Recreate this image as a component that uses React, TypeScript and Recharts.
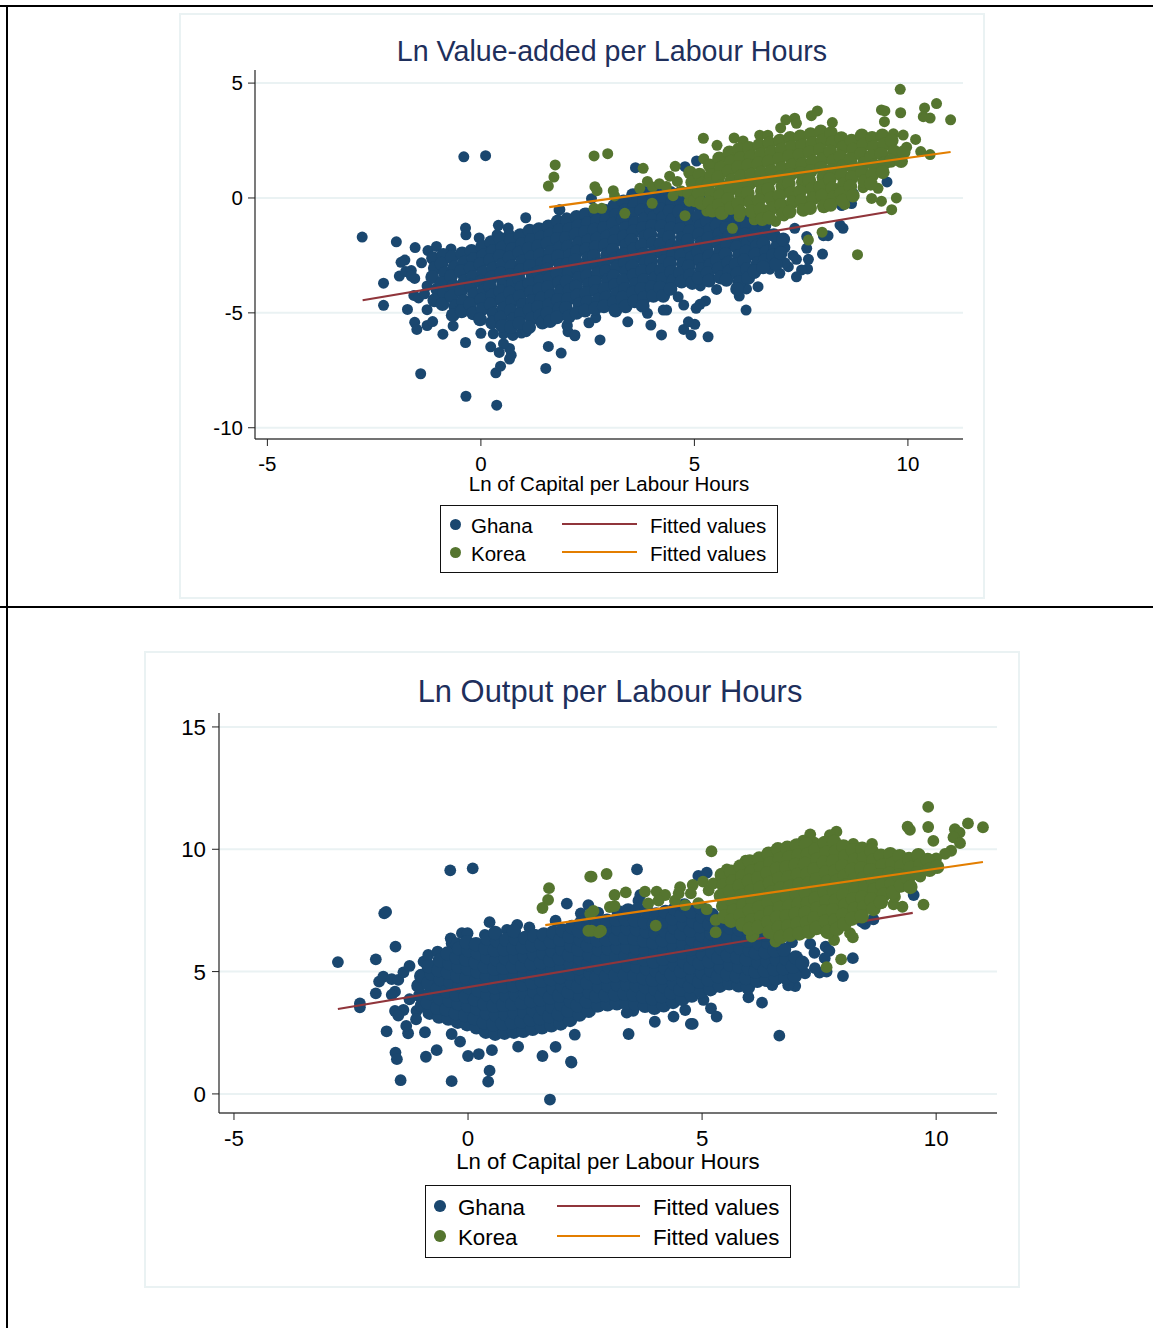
import { CartesianGrid, Scatter, ScatterChart, XAxis, YAxis } from "recharts";

type Pair = [number, number];

const FONT = "'Liberation Sans', Arial, sans-serif";
const GHANA = "#1a476f";
const KOREA = "#55752f";
const GHANA_FIT = "#90353b";
const KOREA_FIT = "#e37e00";
const GRID = "#eaf2f3";

const xTicks = [-5, 0, 5, 10];
const vaTicks = [-10, -5, 0, 5];
const outputTicks = [0, 5, 10, 15];

// Top panel: ln value-added per labour hour
const ghanaVaOuter: Pair[] = [
  [-2.78,-1.7],[-1.98,-1.91],[-1.54,-2.16],[-2.28,-3.71],[-2.28,-4.67],[-1.72,-4.85],[-1.55,-5.41],[-1.5,-5.72],[-1.26,-5.55],[-1.13,-5.38],
  [-.89,-5.93],[-.65,-5.57],[-.36,-6.29],[-1.41,-7.65],[-.35,-8.63],[.37,-9.02],[.35,-7.61],[.46,-7.32],[.67,-7.01],[.71,-6.84],
  [.67,-6.55],[.53,-6.34],[.43,-6.72],[.23,-6.48],[0,-5.89],[.29,-5.91],[.53,-5.91],[.75,-5.98],[.95,-5.88],[1.06,-5.82],
  [1.52,-7.42],[1.58,-6.46],[1.88,-6.75],[2.02,-5.58],[2.04,-5.82],[2.2,-6],[-.4,1.79],[.11,1.84],[1.83,-.52],[1.05,-.86],
  [-.36,-1.31],[-.35,-1.6],[.41,-1.19],[.64,-1.31],[.38,-1.6],[.66,-1.56],[-.04,-1.74],[-1.24,-2.29],[-1.04,-2.11],[-.7,-2.22],
  [-1.78,-2.7],[-1.87,-2.8],[-1.39,-2.82],[-1.91,-3.4],[-1.76,-3.2],[-1.63,-3.16],[-1.55,-3.5],[-1.63,-3.4],[-1.57,-4.24],[-1.46,-4.35],
  [-1.32,-4.17],[-1.26,-3.83],[-1.26,-4.86],[9.42,1.12],[9.51,.7],[8,-2.44],[7.67,-2.67],[7.63,-2.19],[7.63,-1.68],[7.65,-3.09],
  [7.51,-3.13],[7.39,-3.43],[7,-3.28],[7.2,-2.99],[7.12,-2.82],[7.39,-2.67],[6.49,-3.86],[6.21,-4.88],[6.05,-4.27],[5.52,-3.98],
  [5.14,-3.83],[5.26,-4.48],[5.13,-4.63],[5.04,-4.8],[4.75,-4.66],[4.62,-4.3],[4.35,-4.88],[4.27,-4.88],[3.9,-5.02],[3.98,-5.53],
  [3.44,-5.39],[2.69,-5.21],[2.53,-5.43],[2.02,-5.53],[2.2,-5.96],[2.79,-6.18],[4.23,-5.96],[4.75,-5.72],[5.01,-5.5],[4.86,-5.39],
  [4.92,-5.96],[5.32,-6.04],[8.48,-1.32],[8.41,-1.18],[8.02,-1.64],[8.13,-1.64],[8.45,-.33],[8.68,-.24],[8.72,.2],[3.62,1.32],
  [5.05,1.61],[4.78,1.36],[2.59,-.03],[1.85,-.51],[2.42,-.67],[2.01,-.86],[7.35,-1.32],[6.93,-1.95],[7.12,-2.16],[7.31,-2.5],
  [6.77,-3.1],[6.41,-3.28],[6.22,-3.96],
];
const ghanaVaCore: Pair[] = [
  [-1.12,-2.62],[-1.08,-3.05],[-1.14,-3.44],[-1.02,-3.98],[-1.09,-4.46],[-.88,-2.48],[-.92,-2.86],[-.84,-3.28],[-.91,-3.71],[-.86,-4.12],[-.9,-4.62],
  [-.68,-2.58],[-.62,-3.02],[-.7,-3.41],[-.64,-3.83],[-.69,-4.28],[-.6,-4.72],[-.66,-5.1],[-.44,-2.41],[-.4,-2.82],[-.47,-3.2],[-.38,-3.61],[-.46,-4.03],[-.41,-4.49],[-.45,-4.93],
  [-.22,-2.3],[-.17,-2.66],[-.24,-3.05],[-.19,-3.44],[-.23,-3.82],[-.16,-4.2],[-.25,-4.61],[-.18,-5.02],[.03,-2.12],[.06,-2.5],[-.01,-2.88],[.05,-3.25],[0,-3.64],[.07,-4.02],[.01,-4.42],[.04,-4.83],[-.02,-5.28],
  [.24,-1.92],[.28,-2.31],[.22,-2.7],[.29,-3.08],[.25,-3.46],[.21,-3.85],[.27,-4.24],[.23,-4.62],[.3,-5.03],[.26,-5.43],[.46,-1.78],[.5,-2.16],[.44,-2.53],[.51,-2.9],[.47,-3.28],[.52,-3.66],[.45,-4.05],[.49,-4.43],[.53,-4.82],[.47,-5.21],[.5,-5.58],
  [.7,-1.82],[.74,-2.22],[.67,-2.6],[.72,-2.98],[.69,-3.36],[.75,-3.74],[.68,-4.12],[.73,-4.5],[.7,-4.9],[.76,-5.28],[.71,-5.62],[.92,-1.62],[.96,-2],[.9,-2.38],[.97,-2.76],[.93,-3.14],[.89,-3.52],[.95,-3.9],[.91,-4.28],[.98,-4.66],[.94,-5.05],[.9,-5.45],
  [1.14,-1.42],[1.18,-1.82],[1.12,-2.2],[1.19,-2.58],[1.15,-2.96],[1.21,-3.34],[1.13,-3.72],[1.17,-4.1],[1.2,-4.48],[1.14,-4.86],[1.19,-5.25],[1.13,-5.62],[1.36,-1.36],[1.41,-1.72],[1.34,-2.1],[1.39,-2.47],[1.43,-2.85],[1.35,-3.23],[1.4,-3.6],[1.37,-3.98],[1.42,-4.36],[1.34,-4.74],[1.39,-5.12],[1.44,-5.42],
  [1.58,-1.24],[1.62,-1.6],[1.56,-1.98],[1.63,-2.36],[1.59,-2.74],[1.55,-3.12],[1.61,-3.5],[1.57,-3.88],[1.64,-4.26],[1.6,-4.64],[1.56,-5.02],[1.62,-5.36],[1.8,-1.02],[1.84,-1.4],[1.78,-1.78],[1.85,-2.16],[1.81,-2.54],[1.86,-2.92],[1.79,-3.3],[1.83,-3.68],[1.87,-4.06],[1.8,-4.44],[1.84,-4.82],[1.78,-5.2],
  [2.02,-.98],[2.07,-1.36],[2,-1.74],[2.05,-2.12],[2.09,-2.5],[2.03,-2.88],[2.06,-3.26],[2.01,-3.64],[2.08,-4.02],[2.04,-4.4],[1.99,-4.78],[2.06,-5.16],[2.24,-.82],[2.28,-1.2],[2.22,-1.58],[2.29,-1.96],[2.25,-2.34],[2.21,-2.72],[2.27,-3.1],[2.3,-3.48],[2.23,-3.86],[2.26,-4.24],[2.31,-4.62],[2.24,-5],
  [2.46,-.72],[2.5,-1.1],[2.44,-1.48],[2.51,-1.86],[2.47,-2.24],[2.52,-2.62],[2.45,-3],[2.49,-3.38],[2.53,-3.76],[2.46,-4.14],[2.5,-4.52],[2.44,-4.9],[2.68,-.62],[2.72,-1],[2.66,-1.38],[2.73,-1.76],[2.69,-2.14],[2.65,-2.52],[2.71,-2.9],[2.74,-3.28],[2.67,-3.66],[2.7,-4.04],[2.75,-4.42],[2.68,-4.8],
  [2.9,-.55],[2.94,-.92],[2.88,-1.3],[2.95,-1.68],[2.91,-2.06],[2.96,-2.44],[2.89,-2.82],[2.93,-3.2],[2.97,-3.58],[2.9,-3.96],[2.94,-4.34],[2.88,-4.72],[3.12,-.35],[3.16,-.74],[3.1,-1.12],[3.17,-1.5],[3.13,-1.88],[3.09,-2.26],[3.15,-2.64],[3.18,-3.02],[3.11,-3.4],[3.14,-3.78],[3.19,-4.16],[3.12,-4.54],[3.15,-4.9],
  [3.34,-.15],[3.38,-.54],[3.32,-.92],[3.39,-1.3],[3.35,-1.68],[3.4,-2.06],[3.33,-2.44],[3.37,-2.82],[3.41,-3.2],[3.34,-3.58],[3.38,-3.96],[3.32,-4.34],[3.39,-4.72],[3.56,.12],[3.6,-.3],[3.54,-.7],[3.61,-1.08],[3.57,-1.46],[3.53,-1.84],[3.59,-2.22],[3.62,-2.6],[3.55,-2.98],[3.58,-3.36],[3.63,-3.74],[3.56,-4.12],[3.6,-4.5],
  [3.78,.26],[3.82,-.14],[3.76,-.54],[3.83,-.92],[3.79,-1.3],[3.84,-1.68],[3.77,-2.06],[3.81,-2.44],[3.85,-2.82],[3.78,-3.2],[3.82,-3.58],[3.76,-3.96],[3.83,-4.34],[3.79,-4.7],[4,.32],[4.04,-.08],[3.98,-.46],[4.05,-.84],[4.01,-1.22],[3.97,-1.6],[4.03,-1.98],[4.06,-2.36],[3.99,-2.74],[4.02,-3.12],[4.07,-3.5],[4,-3.88],[4.04,-4.26],
  [4.22,.3],[4.26,-.1],[4.2,-.48],[4.27,-.86],[4.23,-1.24],[4.28,-1.62],[4.21,-2],[4.25,-2.38],[4.29,-2.76],[4.22,-3.14],[4.26,-3.52],[4.2,-3.9],[4.27,-4.26],[4.44,.22],[4.48,-.18],[4.42,-.56],[4.49,-.94],[4.45,-1.32],[4.41,-1.7],[4.47,-2.08],[4.5,-2.46],[4.43,-2.84],[4.46,-3.22],[4.51,-3.6],[4.44,-3.96],
  [4.66,.2],[4.7,-.2],[4.64,-.6],[4.71,-.98],[4.67,-1.36],[4.72,-1.74],[4.65,-2.12],[4.69,-2.5],[4.73,-2.88],[4.66,-3.26],[4.7,-3.64],[4.88,.1],[4.92,-.3],[4.86,-.7],[4.93,-1.08],[4.89,-1.46],[4.85,-1.84],[4.91,-2.22],[4.94,-2.6],[4.87,-2.98],[4.9,-3.36],[4.95,-3.7],
  [5.1,.02],[5.14,-.42],[5.08,-.82],[5.15,-1.2],[5.11,-1.58],[5.16,-1.96],[5.09,-2.34],[5.13,-2.72],[5.17,-3.1],[5.1,-3.48],[5.32,-.22],[5.36,-.62],[5.3,-1],[5.37,-1.38],[5.33,-1.76],[5.29,-2.14],[5.35,-2.52],[5.38,-2.9],[5.31,-3.28],[5.34,-3.6],
  [5.54,-.4],[5.58,-.8],[5.52,-1.18],[5.59,-1.56],[5.55,-1.94],[5.6,-2.32],[5.53,-2.7],[5.57,-3.08],[5.61,-3.46],[5.76,-.5],[5.8,-.92],[5.74,-1.3],[5.81,-1.68],[5.77,-2.06],[5.73,-2.44],[5.79,-2.82],[5.82,-3.2],[5.75,-3.56],
  [5.98,-.6],[6.02,-1],[5.96,-1.38],[6.03,-1.76],[5.99,-2.14],[6.04,-2.52],[5.97,-2.9],[6.01,-3.28],[6.05,-3.66],[6,-3.96],[6.2,-.82],[6.24,-1.2],[6.18,-1.58],[6.25,-1.96],[6.21,-2.34],[6.17,-2.72],[6.23,-3.1],[6.26,-3.48],
  [6.42,-.9],[6.46,-1.32],[6.4,-1.7],[6.47,-2.08],[6.43,-2.46],[6.48,-2.84],[6.41,-3.2],[6.64,-1.2],[6.68,-1.58],[6.62,-1.96],[6.69,-2.34],[6.65,-2.72],[6.61,-3.02],[6.86,-1.62],[6.9,-2.2],[6.84,-2.5],[6.91,-2.88],[7.02,-2.4],[7.08,-1.8],
];
const koreaVaOuter: Pair[] = [
  [9.82,4.73],[10.67,4.11],[10.39,3.92],[11,3.4],[10.36,3.54],[10.52,3.48],[9.83,3.71],[9.38,3.83],[9.46,3.79],[9.45,3.32],
  [10.18,2.55],[10.3,2.02],[10.52,1.89],[9.97,2.21],[9.89,2.74],[9.66,2.79],[7.88,3.79],[7.74,3.58],[7.35,3.47],[7.39,3.25],
  [7.14,3.4],[7.02,3.05],[8.23,3.28],[5.21,2.6],[5.53,2.29],[5.93,2.61],[6.14,2.48],[6.53,2.73],[6.72,2.73],[2.97,1.93],
  [2.65,1.83],[1.74,1.44],[1.71,.91],[1.58,.52],[3.8,1.29],[4.55,1.38],[5.22,1.71],[8.82,-2.47],[9.73,0],[9.38,-.14],
  [9.62,-.51],[7.99,-1.49],[7.67,-1.83],[5.89,-1.32],[6.05,-.81],[3.37,-.67],[4.78,-.77],[5.29,-.57],[4.88,-.14],[4.01,-.23],
  [2.65,-.45],[2.83,-.45],[2.67,.49],[2.72,.32],[3.1,.32],[3.13,.09],[3.9,.72],[4.02,.48],[4.18,.62],[3.72,.42],
  [4.42,.95],[4.6,.72],[4.34,.5],[4.7,.3],[4.5,.1],[9.15,-.02],[8.95,.45],[9.3,.42],[8.52,-.28],[7.1,-.78],[6.4,-.95],[6.9,-1.02],
];
const koreaVaCore: Pair[] = [
  [4.9,1.1],[4.95,.68],[4.88,.22],[5.02,-.1],[5.12,1.02],[5.18,.62],[5.1,.22],[5.16,-.22],[5.36,1.42],[5.4,1],[5.33,.6],[5.39,.2],[5.35,-.2],[5.42,-.55],
  [5.58,1.72],[5.62,1.32],[5.56,.9],[5.63,.5],[5.6,.1],[5.57,-.3],[5.64,-.66],[5.82,1.98],[5.86,1.58],[5.8,1.16],[5.87,.76],[5.83,.36],[5.79,-.04],[5.85,-.44],
  [6.04,2.12],[6.08,1.74],[6.02,1.34],[6.09,.94],[6.05,.54],[6.1,.14],[6.03,-.24],[6.07,-.6],[6.28,2.18],[6.32,1.8],[6.26,1.42],[6.33,1.02],[6.29,.62],[6.25,.22],[6.31,-.18],[6.34,-.58],
  [6.52,2.3],[6.56,1.9],[6.5,1.5],[6.57,1.1],[6.53,.7],[6.58,.3],[6.51,-.1],[6.55,-.5],[6.59,-.92],[6.76,2.38],[6.8,1.98],[6.74,1.58],[6.81,1.18],[6.77,.78],[6.73,.38],[6.79,-.02],[6.82,-.44],[6.75,-.86],
  [7,2.5],[7.04,2.1],[6.98,1.7],[7.05,1.3],[7.01,.9],[7.06,.5],[6.99,.1],[7.03,-.3],[7.07,-.7],[7.24,2.62],[7.28,2.22],[7.22,1.82],[7.29,1.42],[7.25,1.02],[7.21,.62],[7.27,.22],[7.3,-.18],[7.23,-.6],
  [7.48,2.68],[7.52,2.28],[7.46,1.88],[7.53,1.48],[7.49,1.08],[7.54,.68],[7.47,.28],[7.51,-.12],[7.55,-.52],[7.72,2.78],[7.76,2.38],[7.7,1.98],[7.77,1.58],[7.73,1.18],[7.69,.78],[7.75,.38],[7.78,-.02],[7.71,-.44],
  [7.96,2.9],[8,2.5],[7.94,2.1],[8.01,1.7],[7.97,1.3],[8.02,.9],[7.95,.5],[7.99,.1],[8.03,-.36],[8.2,2.82],[8.24,2.42],[8.18,2.02],[8.25,1.62],[8.21,1.22],[8.17,.82],[8.23,.42],[8.26,.02],[8.19,-.3],
  [8.44,2.6],[8.48,2.2],[8.42,1.8],[8.49,1.4],[8.45,1],[8.5,.6],[8.43,.2],[8.47,-.12],[8.68,2.5],[8.72,2.1],[8.66,1.7],[8.73,1.3],[8.69,.9],[8.65,.5],[8.71,.1],
  [8.92,2.72],[8.96,2.32],[8.9,1.92],[8.97,1.52],[8.93,1.12],[8.98,.72],[9.16,2.62],[9.2,2.22],[9.14,1.82],[9.21,1.42],[9.17,1.02],[9.13,.62],[9.4,2.72],[9.44,2.32],[9.38,1.92],[9.45,1.52],[9.41,1.12],[9.62,2.5],[9.68,2.02],[9.6,1.62],[9.84,1.6],[9.9,2],
];
const ghanaVaFitX = [-2.77, 9.55];
const ghanaVaFitY = [-4.45, -0.6];
const koreaVaFitX = [1.6, 11];
const koreaVaFitY = [-0.4, 2];

// Bottom panel: ln output per labour hour
const ghanaOutOuter: Pair[] = [
  [-2.78,5.39],[-1.97,5.5],[-1.55,6.02],[-1.79,7.38],[-1.75,7.44],[-.38,9.14],[.1,9.22],[-2.31,3.7],[-2.31,3.54],[-1.97,4.11],
  [-1.74,2.56],[-1.55,1.69],[-1.52,1.42],[-1.44,.56],[-.9,1.52],[-.67,1.79],[-.35,.52],[0,1.55],[.23,1.63],[.51,1.79],
  [.46,.95],[.43,.5],[1.75,-.23],[1.59,1.55],[1.87,1.92],[2.21,1.28],[2.28,2.42],[1.07,1.93],[-.17,2.14],[-1.28,2.48],
  [-.92,2.52],[-.35,2.45],[-1.32,2.78],[-1.56,3.39],[-1.38,3.43],[-1.49,3.2],[-1.1,3.39],[-1.11,3.05],[-1.9,4.59],[-1.81,4.79],
  [-1.63,4.69],[-1.49,4.66],[-1.56,4.18],[-1.63,4.05],[-1.25,3.87],[-1.38,4.97],[-1.25,5.23],[-.95,5.41],[-.85,5.68],[-.65,5.82],
  [-.37,6.36],[-.35,6.16],[-.24,6.16],[-.13,6.57],[-.01,6.57],[.36,6.5],[.46,7.02],[1.05,6.91],[.83,6.7],[1.31,6.81],
  [1.87,7.08],[2.11,7.78],[2.41,7.38],[3.61,9.18],[2.57,7.72],[2.78,7.41],[4.92,8.91],[5.1,9.04],[3.68,8.13],[3.64,7.9],
  [9.52,8.13],[9.44,8.45],[8.75,7.76],[8.66,7.14],[8.48,6.95],[8.41,7.04],[8.22,5.55],[8.01,4.82],[7.66,5],[7.51,4.96],
  [7.41,5.14],[7.2,4.93],[6.99,4.41],[6.84,4.44],[6.5,4.45],[6.28,3.73],[5.99,3.95],[7.64,6.02],[7.4,5.77],[7.31,6.13],
  [6.92,6.2],[5.03,3.84],[5.19,3.5],[5.31,3.16],[4.8,2.86],[4.76,2.86],[4.39,3.16],[3.99,2.95],[3.43,2.45],[3.53,3.4],
  [3.39,3.32],[6.65,2.38],[2.2,1.32],[4.64,3.43],[2.75,3.57],[7.72,5.85],[7.62,5.55],[7.05,5.2],
];
const ghanaOutCore: Pair[] = [
  [-1.02,4.02],[-1.06,4.42],[-1.0,4.82],[-.98,3.62],[-.82,3.32],[-.86,3.72],[-.8,4.12],[-.85,4.52],[-.78,4.92],[-.84,5.22],[-.62,3.16],[-.66,3.52],[-.6,3.9],[-.65,4.3],[-.58,4.68],[-.63,5.06],[-.6,5.46],
  [-.42,3.08],[-.46,3.46],[-.4,3.82],[-.45,4.2],[-.38,4.58],[-.43,4.96],[-.4,5.34],[-.44,5.74],[-.22,2.95],[-.26,3.3],[-.2,3.68],[-.25,4.06],[-.18,4.44],[-.23,4.82],[-.2,5.2],[-.24,5.58],[-.19,5.94],
  [-.02,2.85],[-.06,3.22],[0,3.6],[-.05,3.98],[.02,4.36],[-.03,4.74],[0,5.12],[-.04,5.5],[.01,5.88],[-.03,6.2],[.18,2.72],[.14,3.1],[.2,3.48],[.15,3.86],[.22,4.24],[.17,4.62],[.2,5],[.16,5.38],[.21,5.76],[.17,6.12],
  [.38,2.54],[.34,2.92],[.4,3.3],[.35,3.68],[.42,4.06],[.37,4.44],[.4,4.82],[.36,5.2],[.41,5.58],[.37,5.96],[.42,6.34],[.58,2.46],[.54,2.84],[.6,3.22],[.55,3.6],[.62,3.98],[.57,4.36],[.6,4.74],[.56,5.12],[.61,5.5],[.57,5.88],[.62,6.26],[.58,6.58],
  [.78,2.5],[.74,2.88],[.8,3.26],[.75,3.64],[.82,4.02],[.77,4.4],[.8,4.78],[.76,5.16],[.81,5.54],[.77,5.92],[.82,6.3],[.98,2.54],[.94,2.92],[1,3.3],[.95,3.68],[1.02,4.06],[.97,4.44],[1,4.82],[.96,5.2],[1.01,5.58],[.97,5.96],[1.02,6.34],[.98,6.66],
  [1.18,2.58],[1.14,2.96],[1.2,3.34],[1.15,3.72],[1.22,4.1],[1.17,4.48],[1.2,4.86],[1.16,5.24],[1.21,5.62],[1.17,6],[1.22,6.38],[1.38,2.66],[1.34,3.04],[1.4,3.42],[1.35,3.8],[1.42,4.18],[1.37,4.56],[1.4,4.94],[1.36,5.32],[1.41,5.7],[1.37,6.08],[1.42,6.46],
  [1.58,2.72],[1.54,3.1],[1.6,3.48],[1.55,3.86],[1.62,4.24],[1.57,4.62],[1.6,5],[1.56,5.38],[1.61,5.76],[1.57,6.14],[1.62,6.52],[1.78,2.8],[1.74,3.18],[1.8,3.56],[1.75,3.94],[1.82,4.32],[1.77,4.7],[1.8,5.08],[1.76,5.46],[1.81,5.84],[1.77,6.22],[1.82,6.6],
  [1.98,2.88],[1.94,3.26],[2,3.64],[1.95,4.02],[2.02,4.4],[1.97,4.78],[2,5.16],[1.96,5.54],[2.01,5.92],[1.97,6.3],[2.02,6.68],[2.18,3.02],[2.14,3.4],[2.2,3.78],[2.15,4.16],[2.22,4.54],[2.17,4.92],[2.2,5.3],[2.16,5.68],[2.21,6.06],[2.17,6.44],[2.22,6.82],
  [2.38,3.24],[2.34,3.62],[2.4,4],[2.35,4.38],[2.42,4.76],[2.37,5.14],[2.4,5.52],[2.36,5.9],[2.41,6.28],[2.37,6.66],[2.42,7],[2.58,3.4],[2.54,3.78],[2.6,4.16],[2.55,4.54],[2.62,4.92],[2.57,5.3],[2.6,5.68],[2.56,6.06],[2.61,6.44],[2.57,6.82],[2.62,7.14],
  [2.78,3.62],[2.74,4],[2.8,4.38],[2.75,4.76],[2.82,5.14],[2.77,5.52],[2.8,5.9],[2.76,6.28],[2.81,6.66],[2.77,7.04],[2.98,3.66],[2.94,4.04],[3,4.42],[2.95,4.8],[3.02,5.18],[2.97,5.56],[3,5.94],[2.96,6.32],[3.01,6.7],[2.97,7.08],
  [3.18,3.7],[3.14,4.08],[3.2,4.46],[3.15,4.84],[3.22,5.22],[3.17,5.6],[3.2,5.98],[3.16,6.36],[3.21,6.74],[3.17,7.12],[3.22,7.42],[3.38,3.72],[3.34,4.1],[3.4,4.48],[3.35,4.86],[3.42,5.24],[3.37,5.62],[3.4,6],[3.36,6.38],[3.41,6.76],[3.37,7.14],[3.42,7.5],
  [3.58,3.68],[3.54,4.06],[3.6,4.44],[3.55,4.82],[3.62,5.2],[3.57,5.58],[3.6,5.96],[3.56,6.34],[3.61,6.72],[3.57,7.1],[3.62,7.52],[3.78,3.6],[3.74,3.98],[3.8,4.36],[3.75,4.74],[3.82,5.12],[3.77,5.5],[3.8,5.88],[3.76,6.26],[3.81,6.64],[3.77,7.02],[3.82,7.46],
  [3.98,3.52],[3.94,3.9],[4,4.28],[3.95,4.66],[4.02,5.04],[3.97,5.42],[4,5.8],[3.96,6.18],[4.01,6.56],[3.97,6.94],[4.02,7.34],[4.18,3.62],[4.14,4],[4.2,4.38],[4.15,4.76],[4.22,5.14],[4.17,5.52],[4.2,5.9],[4.16,6.28],[4.21,6.66],[4.17,7.04],[4.22,7.44],
  [4.38,3.76],[4.34,4.14],[4.4,4.52],[4.35,4.9],[4.42,5.28],[4.37,5.66],[4.4,6.04],[4.36,6.42],[4.41,6.8],[4.37,7.18],[4.42,7.56],[4.58,3.88],[4.54,4.26],[4.6,4.64],[4.55,5.02],[4.62,5.4],[4.57,5.78],[4.6,6.16],[4.56,6.54],[4.61,6.92],[4.57,7.3],[4.62,7.7],
  [4.78,4.02],[4.74,4.4],[4.8,4.78],[4.75,5.16],[4.82,5.54],[4.77,5.92],[4.8,6.3],[4.76,6.68],[4.81,7.06],[4.77,7.44],[4.98,4.2],[4.94,4.58],[5,4.96],[4.95,5.34],[5.02,5.72],[4.97,6.1],[5,6.48],[4.96,6.86],[5.01,7.24],[4.97,7.62],
  [5.18,4.28],[5.14,4.66],[5.2,5.04],[5.15,5.42],[5.22,5.8],[5.17,6.18],[5.2,6.56],[5.16,6.94],[5.21,7.32],[5.38,4.42],[5.34,4.8],[5.4,5.18],[5.35,5.56],[5.42,5.94],[5.37,6.32],[5.4,6.7],[5.36,7.08],
  [5.58,4.52],[5.54,4.9],[5.6,5.28],[5.55,5.66],[5.62,6.04],[5.57,6.42],[5.6,6.8],[5.78,4.44],[5.74,4.82],[5.8,5.2],[5.75,5.58],[5.82,5.96],[5.77,6.34],[5.8,6.72],
  [5.98,4.36],[5.94,4.74],[6,5.12],[5.95,5.5],[6.02,5.88],[5.97,6.26],[6,6.64],[6.18,4.62],[6.14,5],[6.2,5.38],[6.15,5.76],[6.22,6.14],[6.17,6.52],[6.38,4.66],[6.34,5.04],[6.4,5.42],[6.35,5.8],[6.42,6.18],[6.37,6.5],
  [6.58,4.72],[6.54,5.1],[6.6,5.48],[6.55,5.86],[6.78,4.76],[6.74,5.14],[6.8,5.52],[6.75,5.9],[6.98,4.82],[6.94,5.2],[7,5.58],[7.14,5.36],
];
const koreaOutOuter: Pair[] = [
  [9.83,11.73],[9.83,10.91],[9.39,10.92],[9.44,10.79],[10.68,11.06],[11,10.9],[10.4,10.82],[10.5,10.68],[10.37,10.49],[10.51,10.25],
  [9.94,10.34],[10.32,9.94],[10.19,9.81],[10,9.63],[7.87,10.72],[7.73,10.58],[7.31,10.61],[7.16,10.35],[7.4,10.27],[7.02,10.04],
  [8.23,10.22],[8.63,10.22],[5.2,9.92],[5.53,9.18],[5.93,9.53],[6.17,9.49],[2.64,8.88],[2.96,8.99],[3.13,8.13],[3.37,8.24],
  [3.03,7.64],[3.13,7.68],[2.68,7.48],[2.64,6.67],[2.84,6.67],[2.79,6.6],[4.01,6.88],[3.78,8.27],[4.03,8.27],[4.21,8.13],
  [3.85,7.79],[4.07,7.9],[4.53,8.45],[4.8,8.54],[4.64,7.72],[5.29,7.11],[5.29,6.61],[6.1,6.5],[6.06,6.43],[6.57,6.23],
  [7.82,6.29],[8.16,6.57],[8.22,6.4],[7.97,5.5],[7.66,5.18],[9.73,7.74],[9.28,7.65],[9.09,7.75],[9.12,8.06],[9.66,8.88],
  [9.37,9.13],[1.73,8.41],[1.71,7.93],[1.59,7.6],[2.61,8.88],[2.61,7.36],[2.57,6.67],[4.42,7.9],[4.5,8.2],[5.02,8.68],[5.14,8.32],
  [4.76,8.2],[4.92,7.8],[5.1,7.55],[5.24,8.6],
];
const koreaOutCore: Pair[] = [
  [5.42,8.95],[5.46,8.52],[5.4,8.1],[5.45,7.68],[5.48,7.24],[5.62,9.08],[5.66,8.68],[5.6,8.28],[5.65,7.88],[5.68,7.48],[5.62,7.08],[5.82,9.3],[5.86,8.9],[5.8,8.5],[5.85,8.1],[5.88,7.7],[5.82,7.3],[5.86,6.92],
  [6.02,9.5],[6.06,9.1],[6.0,8.7],[6.05,8.3],[6.08,7.9],[6.02,7.5],[6.06,7.1],[6.01,6.74],[6.22,9.62],[6.26,9.22],[6.2,8.82],[6.25,8.42],[6.28,8.02],[6.22,7.62],[6.26,7.22],[6.2,6.82],
  [6.42,9.82],[6.46,9.42],[6.4,9.02],[6.45,8.62],[6.48,8.22],[6.42,7.82],[6.46,7.42],[6.41,7.02],[6.44,6.62],[6.62,10],[6.66,9.6],[6.6,9.2],[6.65,8.8],[6.68,8.4],[6.62,8],[6.66,7.6],[6.6,7.2],[6.64,6.8],[6.68,6.42],
  [6.82,10.06],[6.86,9.66],[6.8,9.26],[6.85,8.86],[6.88,8.46],[6.82,8.06],[6.86,7.66],[6.81,7.26],[6.84,6.86],[6.88,6.5],[7.02,10.16],[7.06,9.76],[7,9.36],[7.05,8.96],[7.08,8.56],[7.02,8.16],[7.06,7.76],[7,7.36],[7.04,6.96],[7.08,6.56],
  [7.22,10.2],[7.26,9.8],[7.2,9.4],[7.25,9],[7.28,8.6],[7.22,8.2],[7.26,7.8],[7.21,7.4],[7.24,7],[7.28,6.62],[7.42,9.98],[7.46,9.58],[7.4,9.18],[7.45,8.78],[7.48,8.38],[7.42,7.98],[7.46,7.58],[7.4,7.18],[7.44,6.78],
  [7.62,10.26],[7.66,9.86],[7.6,9.46],[7.65,9.06],[7.68,8.66],[7.62,8.26],[7.66,7.86],[7.61,7.46],[7.64,7.06],[7.68,6.62],[7.82,10.3],[7.86,9.9],[7.8,9.5],[7.85,9.1],[7.88,8.7],[7.82,8.3],[7.86,7.9],[7.8,7.5],[7.84,7.1],[7.88,6.74],
  [8.02,10.12],[8.06,9.72],[8,9.32],[8.05,8.92],[8.08,8.52],[8.02,8.12],[8.06,7.72],[8.01,7.32],[8.04,6.94],[8.22,9.96],[8.26,9.56],[8.2,9.16],[8.25,8.76],[8.28,8.36],[8.22,7.96],[8.26,7.56],[8.2,7.16],
  [8.42,10.02],[8.46,9.62],[8.4,9.22],[8.45,8.82],[8.48,8.42],[8.42,8.02],[8.46,7.62],[8.41,7.26],[8.62,9.94],[8.66,9.54],[8.6,9.14],[8.65,8.74],[8.68,8.34],[8.62,7.94],[8.66,7.56],
  [8.82,9.74],[8.86,9.34],[8.8,8.94],[8.85,8.54],[8.88,8.14],[8.82,7.84],[9.02,9.8],[9.06,9.4],[9,9],[9.05,8.6],[9.08,8.24],[9.22,9.72],[9.26,9.32],[9.2,8.92],[9.25,8.52],[9.42,9.6],[9.46,9.24],[9.4,8.8],[9.45,8.46],[9.62,9.76],[9.66,9.36],[9.6,9.02],[9.82,9.56],[9.86,9.16],[10.02,9.28],
];
const ghanaOutFitX = [-2.78, 9.5];
const ghanaOutFitY = [3.47, 7.4];
const koreaOutFitX = [1.65, 11];
const koreaOutFitY = [6.9, 9.48];

const toPoints = (pairs: Pair[]) => pairs.map(([x, y]) => ({ x, y }));
const fitPoints = (xs: number[], ys: number[]) => xs.map((x, i) => ({ x, y: ys[i] }));

const noDot = () => <g />;

function Dot(r: number, fill: string) {
  return (props: any) => <circle cx={props.cx} cy={props.cy} r={r} fill={fill} />;
}

type PanelProps = {
  box: { left: number; top: number; width: number; height: number };
  plot: { left: number; right: number; top: number; bottom: number };
  title: string;
  titleCenter: number;
  titleTop: number;
  titleSize: number;
  tickSize: number;
  labelSize: number;
  labelOffset: number;
  dotR: number;
  coreR: number;
  yTickMargin: number;
  xDomain: [number, number];
  yDomain: [number, number];
  yTicks: number[];
  ghanaOuter: Pair[];
  ghanaCore: Pair[];
  koreaOuter: Pair[];
  koreaCore: Pair[];
  ghanaFit: { x: number; y: number }[];
  koreaFit: { x: number; y: number }[];
  legend: { left: number; top: number; width: number; height: number; rowGap: number; font: number; dot: number; dotX: number; nameX: number; lineX: number; lineW: number; fitX: number; firstRow: number };
};

function Panel(p: PanelProps) {
  const yAxisW = 60;
  const xAxisH = 60;
  const L = p.legend;
  const row = (i: number) => L.firstRow + i * L.rowGap;
  return (
    <>
      <div
        style={{
          position: "absolute",
          left: p.box.left,
          top: p.box.top,
          width: p.box.width,
          height: p.box.height,
          boxSizing: "border-box",
          border: `2px solid ${GRID}`,
          background: "#fff",
        }}
      />
      <div style={{ position: "absolute", left: p.box.left, top: p.box.top }}>
        <ScatterChart
          width={p.box.width}
          height={p.box.height}
          margin={{
            left: p.plot.left - p.box.left - yAxisW,
            right: p.box.left + p.box.width - p.plot.right,
            top: p.plot.top - p.box.top,
            bottom: p.box.top + p.box.height - p.plot.bottom - xAxisH,
          }}
        >
          <CartesianGrid horizontal vertical={false} stroke={GRID} strokeWidth={2} horizontalValues={p.yTicks} />
          <XAxis
            type="number"
            dataKey="x"
            domain={p.xDomain}
            ticks={xTicks}
            height={xAxisH}
            interval={0}
            tick={{ fill: "#000", fontSize: p.tickSize, fontFamily: FONT }}
            tickLine={{ stroke: "#222" }}
            axisLine={{ stroke: "#444", strokeWidth: 1.5 }}
            tickSize={7}
            tickMargin={10}
            label={{
              value: "Ln of Capital per Labour Hours",
              position: "insideTop",
              offset: p.labelOffset,
              fill: "#000",
              fontSize: p.labelSize,
              fontFamily: FONT,
            }}
          />
          <YAxis
            type="number"
            dataKey="y"
            domain={p.yDomain}
            ticks={p.yTicks}
            width={yAxisW}
            interval={0}
            tick={{ fill: "#000", fontSize: p.tickSize, fontFamily: FONT }}
            tickLine={{ stroke: "#222" }}
            axisLine={{ stroke: "#222", strokeWidth: 1.2 }}
            tickSize={7}
            tickMargin={p.yTickMargin}
          />
          <Scatter data={toPoints(p.ghanaOuter)} isAnimationActive={false} shape={Dot(p.dotR, GHANA)} />
          <Scatter data={toPoints(p.ghanaCore)} isAnimationActive={false} shape={Dot(p.coreR, GHANA)} />
          <Scatter
            data={p.ghanaFit}
            isAnimationActive={false}
            line={{ stroke: GHANA_FIT, strokeWidth: 2.2 }}
            shape={noDot}
          />
          <Scatter data={toPoints(p.koreaOuter)} isAnimationActive={false} shape={Dot(p.dotR, KOREA)} />
          <Scatter data={toPoints(p.koreaCore)} isAnimationActive={false} shape={Dot(p.coreR, KOREA)} />
          <Scatter
            data={p.koreaFit}
            isAnimationActive={false}
            line={{ stroke: KOREA_FIT, strokeWidth: 2.2 }}
            shape={noDot}
          />
        </ScatterChart>
      </div>
      <div
        style={{
          position: "absolute",
          left: p.titleCenter - 300,
          width: 600,
          top: p.titleTop,
          textAlign: "center",
          fontFamily: FONT,
          fontSize: p.titleSize,
          lineHeight: "32px",
          color: "#1e2f5c",
        }}
      >
        {p.title}
      </div>
      {/* Legend */}
      <div
        style={{
          position: "absolute",
          left: L.left,
          top: L.top,
          width: L.width,
          height: L.height,
          boxSizing: "border-box",
          border: "1.3px solid #111",
          background: "#fff",
          fontFamily: FONT,
          fontSize: L.font,
          color: "#000",
        }}
      >
        {[
          { name: "Ghana", dot: GHANA, line: GHANA_FIT },
          { name: "Korea", dot: KOREA, line: KOREA_FIT },
        ].map((item, i) => (
          <div key={item.name}>
            <span
              style={{
                position: "absolute",
                left: L.dotX - L.dot,
                top: row(i) - L.dot - 1,
                width: L.dot * 2,
                height: L.dot * 2,
                borderRadius: "50%",
                background: item.dot,
              }}
            />
            <span style={{ position: "absolute", left: L.nameX, top: row(i) - 12, lineHeight: "26px" }}>{item.name}</span>
            <span
              style={{
                position: "absolute",
                left: L.lineX,
                top: row(i) - 2,
                width: L.lineW,
                height: 2,
                background: item.line,
              }}
            />
            <span style={{ position: "absolute", left: L.fitX, top: row(i) - 12, lineHeight: "26px" }}>Fitted values</span>
          </div>
        ))}
      </div>
    </>
  );
}

export default function App() {
  return (
    <div style={{ position: "absolute", left: 0, top: 0, width: 1153, height: 1328, background: "#fff", overflow: "hidden" }}>
      <div style={{ position: "absolute", left: 0, top: 5, width: 1153, height: 2, background: "#000" }} />
      <div style={{ position: "absolute", left: 6, top: 5, width: 2, height: 1323, background: "#000" }} />
      <div style={{ position: "absolute", left: 0, top: 606, width: 1153, height: 2, background: "#000" }} />
      <Panel
        box={{ left: 179, top: 13, width: 806, height: 586 }}
        plot={{ left: 255, right: 963, top: 70, bottom: 439 }}
        title="Ln Value-added per Labour Hours"
        titleCenter={612}
        titleTop={35}
        titleSize={28.6}
        tickSize={20.5}
        labelSize={20.5}
        labelOffset={37}
        dotR={5.5}
        coreR={6.9}
        yTickMargin={5}
        xDomain={[-5.29, 11.29]}
        yDomain={[-10.49, 5.57]}
        yTicks={vaTicks}
        ghanaOuter={ghanaVaOuter}
        ghanaCore={ghanaVaCore}
        koreaOuter={koreaVaOuter}
        koreaCore={koreaVaCore}
        ghanaFit={fitPoints(ghanaVaFitX, ghanaVaFitY)}
        koreaFit={fitPoints(koreaVaFitX, koreaVaFitY)}
        legend={{ left: 440, top: 505, width: 338, height: 68, rowGap: 28, font: 20.5, dot: 5.5, dotX: 14, nameX: 30, lineX: 121, lineW: 75, fitX: 209, firstRow: 19 }}
      />
      <Panel
        box={{ left: 144, top: 651, width: 876, height: 637 }}
        plot={{ left: 219, right: 997, top: 713, bottom: 1113 }}
        title="Ln Output per Labour Hours"
        titleCenter={610}
        titleTop={676}
        titleSize={30.9}
        tickSize={22.3}
        labelSize={22.2}
        labelOffset={40}
        dotR={5.9}
        coreR={7.2}
        yTickMargin={6}
        xDomain={[-5.32, 11.3]}
        yDomain={[-0.78, 15.57]}
        yTicks={outputTicks}
        ghanaOuter={ghanaOutOuter}
        ghanaCore={ghanaOutCore}
        koreaOuter={koreaOutOuter}
        koreaCore={koreaOutCore}
        ghanaFit={fitPoints(ghanaOutFitX, ghanaOutFitY)}
        koreaFit={fitPoints(koreaOutFitX, koreaOutFitY)}
        legend={{ left: 425, top: 1185, width: 366, height: 73, rowGap: 30, font: 22.3, dot: 5.8, dotX: 14, nameX: 32, lineX: 131, lineW: 83, fitX: 227, firstRow: 21 }}
      />
    </div>
  );
}
